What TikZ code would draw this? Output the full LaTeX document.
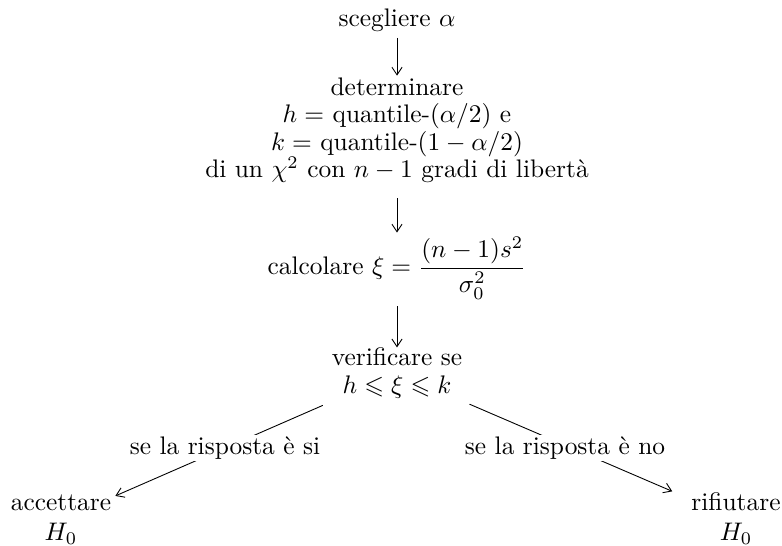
\documentclass[tikz,border=0pt]{standalone}
\usepackage{amsmath,amssymb}
\usetikzlibrary{arrows.meta}
\begin{document}
\begin{tikzpicture}[x=0.3937pt,y=-0.3937pt,
  box/.style={inner sep=0pt, align=center, font=\fontsize{10}{10.75}\selectfont},
  endbox/.style={inner sep=0pt, align=center, font=\fontsize{10}{11.8}\selectfont},
  arr/.style={-{Straight Barb[length=3pt,width=4pt]}, line width=0.35pt},
  lbl/.style={fill=white, inner sep=0.6pt, font=\fontsize{10}{12}\selectfont}]
\useasboundingbox (0,0) rectangle (782,546);
\node[box, anchor=base] (sce) at (397,27) {scegliere $\alpha$};
\node[box, anchor=north] (det) at (397,77.4) {determinare\\ $h=$ quantile-$(\alpha/2)$ e\\ $k=$ quantile-$(1-\alpha/2)$\\ di un $\chi^2$ con $n-1$ gradi di libert\`a};
\node[box, anchor=base] (calc) at (397,275) {calcolare $\xi=\dfrac{(n-1)s^2}{\sigma_0^2}$};
\node[box, anchor=north] (ver) at (397,347.4) {verificare se\\ $h\leqslant\xi\leqslant k$};
\node[endbox, anchor=north] (acc) at (61,494.4) {accettare\\ $H_0$};
\node[endbox, anchor=north] (rif) at (736,492.4) {rifiutare\\ $H_0$};
\draw[arr, shorten <=2pt, shorten >=0.7pt] (sce) -- (det);
\draw[arr, shorten <=6pt, shorten >=1.6pt] (det) -- (calc);
\draw[arr, shorten <=2.5pt] (calc) -- (ver);
\draw[arr, shorten <=6.7pt, shorten >=1.6pt] (ver) -- node[lbl] {se la risposta \`e si} (acc);
\draw[arr, shorten <=5.6pt, shorten >=8pt] (ver) -- node[lbl, pos=0.463, yshift=-1pt] {se la risposta \`e no} (rif);
\end{tikzpicture}
\end{document}
